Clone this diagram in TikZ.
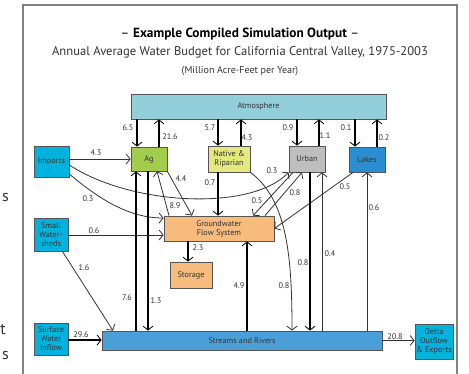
\documentclass[tikz,border=0pt]{standalone}
\usepackage{fontspec}
\setmainfont{PT Sans}
\usetikzlibrary{arrows.meta}
\definecolor{atmc}{HTML}{92CFDB}
\definecolor{cyanc}{HTML}{00B2DE}
\definecolor{agc}{HTML}{A2CD4C}
\definecolor{natc}{HTML}{E4E87E}
\definecolor{urbc}{HTML}{BEBEBE}
\definecolor{lakc}{HTML}{2B8ED3}
\definecolor{gwc}{HTML}{F6BC7D}
\definecolor{strc}{HTML}{4A9FD8}
\definecolor{boxline}{HTML}{555555}
\definecolor{txt}{HTML}{333333}
\definecolor{thinc}{HTML}{333333}
\definecolor{framec}{HTML}{808080}
\tikzset{
  box/.style={draw=boxline, line width=0.8pt, inner sep=0pt, align=center,
    font=\fontsize{8.2}{9}\selectfont, text=txt},
  num/.style={font=\fontsize{8.2}{9}\selectfont, text=txt, inner sep=0pt},
  tipc/.style={-{Straight Barb[length=4pt,width=10pt,line width=0.8pt]}},
  thk/.style={tipc, line width=1.6pt, draw=black},
  thn/.style={tipc, line width=0.8pt, draw=thinc},
}
\begin{document}
\begin{tikzpicture}[x=1pt,y=-1pt]
\useasboundingbox (0,0) rectangle (469,373);
% frame
\draw[framec, line width=1.5pt] (23,385) -- (23,5) -- (457,5) -- (457,385);
% stray glyphs at left margin
\node[anchor=east, font=\fontsize{16}{18}\selectfont, text=txt, inner sep=0pt] (g1) at (9,197) {s};
\node[anchor=east, font=\fontsize{16}{18}\selectfont, text=txt, inner sep=0pt] (g2) at (6,330) {t};
\node[anchor=east, font=\fontsize{16}{18}\selectfont, text=txt, inner sep=0pt] (g3) at (9,355) {s};
% titles
\node[font=\fontsize{13.3}{15}\selectfont, text=black] (t1) at (240,34) {-- \textbf{Example Compiled Simulation Output} --};
\node[font=\fontsize{12.6}{14}\selectfont, text=txt] (t2) at (240,52) {Annual Average Water Budget for California Central Valley, 1975-2003};
\node[font=\fontsize{10}{11}\selectfont, text=txt] (t3) at (240,71) {(Million Acre-Feet per Year)};
% boxes
\node[box, fill=atmc, minimum width=255pt, minimum height=25pt] (atm) at (258.5,106.5) {Atmosphere};
\node[box, fill=cyanc, minimum width=35pt, minimum height=31pt] (imp) at (51.5,161.5) {Imports};
\node[box, fill=agc, minimum width=36pt, minimum height=24pt] (ag) at (149,159) {Ag};
\node[box, fill=natc, minimum width=42pt, minimum height=26pt] (nat) at (229,159) {Native \&\\Riparian};
\node[box, fill=urbc, minimum width=36pt, minimum height=26pt] (urb) at (307,159) {Urban};
\node[box, fill=lakc, minimum width=36pt, minimum height=25pt] (lak) at (367,159.5) {Lakes};
\node[box, fill=gwc, minimum width=110pt, minimum height=25pt] (gw) at (219,228.5) {Groundwater\\Flow System};
\node[box, fill=gwc, minimum width=42pt, minimum height=26pt] (sto) at (191,275) {Storage};
\node[box, fill=cyanc, minimum width=34pt, minimum height=33pt] (sw) at (51,234.5) {Small\\Water-\\sheds};
\node[box, fill=cyanc, minimum width=34pt, minimum height=32pt] (swi) at (51,339) {Surface\\Water\\Inflow};
\node[box, fill=strc, minimum width=280pt, minimum height=19pt] (str) at (242,340.5) {Streams and Rivers};
\node[box, fill=cyanc, minimum width=38pt, minimum height=35pt] (del) at (434,341.5) {Delta\\Outflow\\\& Exports};
% atmosphere exchanges
\draw[thk] (atm.south -| 137,0) -- (ag.north -| 137,0);
\draw[thk] (ag.north -| 159,0) -- (atm.south -| 159,0);
\draw[thk] (atm.south -| 218,0) -- (nat.north -| 218,0);
\draw[thk] (nat.north -| 241,0) -- (atm.south -| 241,0);
\draw[thk] (atm.south -| 297,0) -- (urb.north -| 297,0);
\draw[thk] (urb.north -| 319,0) -- (atm.south -| 319,0);
\draw[thk] (atm.south -| 355,0) -- (lak.north -| 355,0);
\draw[thk] (lak.north -| 377,0) -- (atm.south -| 377,0);
% imports
\draw[thn] (imp.east |- 0,159) -- (ag.west |- 0,159);
\draw[thn] (imp.east |- 0,165) .. controls (130,205) and (250,212) .. (urb.south west);
\draw[thn] (imp.east |- 0,174) .. controls (100,200) and (130,218) .. (gw.west |- 0,218);
% ag and groundwater
\draw[thn] (ag.south east) -- (gw.north -| 192,0);
\draw[thn] (gw.north -| 169,0) -- (ag.south -| 157,0);
% native
\draw[thk] (nat.south -| 218,0) -- (gw.north -| 218,0);
\draw[thn] (nat.south east) .. controls (288,200) and (292,260) .. (str.north -| 292,0);
% ag and streams
\draw[thk] (str.north -| 136,0) -- (ag.south -| 136,0);
\draw[thk] (ag.south -| 148,0) -- (str.north -| 148,0);
% small watersheds
\draw[thn] (sw.east |- 0,235) -- (gw.west |- 0,235);
\draw[thn] ([xshift=-6pt]sw.south east) -- (str.north -| 113,0);
% surface water inflow
\draw[thk] (swi.east |- 0,340) -- (str.west |- 0,340);
% groundwater storage
\draw[thk] (gw.south -| 188,0) -- (sto.north -| 188,0);
% streams to groundwater
\draw[thk] (str.north -| 247,0) -- (gw.south -| 247,0);
% urban and groundwater
\draw[thn] (urb.south -| 293,0) -- (gw.north -| 253,0);
\draw[thn] (gw.north -| 265,0) -- (urb.south -| 302,0);
% lakes to groundwater
\draw[thn] (lak.south -| 353,0) -- (gw.east);
% urban and streams
\draw[thk] (urb.south -| 310,0) -- (str.north -| 310,0);
\draw[thn] (str.north -| 322,0) -- (urb.south -| 322,0);
% streams to lakes
\draw[thn] (str.north -| 367,0) -- (lak.south -| 367,0);
% delta
\draw[thn, line width=1pt] (str.east) -- (del.west |- str.east);
% labels
\node[num] (n1) at (128,128) {6.5};
\node[num] (n2) at (170,137) {21.6};
\node[num] (n3) at (210,128) {5.7};
\node[num] (n4) at (247,138) {4.3};
\node[num] (n5) at (288,128) {0.9};
\node[num] (n6) at (325,136) {1.1};
\node[num] (n7) at (346,128) {0.1};
\node[num] (n8) at (384,138) {0.2};
\node[num] (n9) at (96,153) {4.3};
\node[num] (n10) at (181,179) {4.4};
\node[num] (n11) at (210,183) {0.7};
\node[num] (n12) at (88,199) {0.3};
\node[num] (n13) at (175,206) {8.9};
\node[num] (n14) at (272,171) {0.3};
\node[num] (n15) at (257,201) {0.5};
\node[num] (n16) at (295,193) {0.8};
\node[num] (n17) at (345,187) {0.5};
\node[num] (n18) at (374,208) {0.6};
\node[num] (n19) at (94,231) {0.6};
\node[num] (n20) at (84,268) {1.6};
\node[num] (n21) at (198,248) {2.3};
\node[num] (n22) at (127,298) {7.6};
\node[num] (n23) at (156,301) {1.3};
\node[num] (n24) at (81,335) {29.6};
\node[num] (n25) at (239,286) {4.9};
\node[num] (n26) at (284,286) {0.8};
\node[num] (n27) at (303,263) {0.8};
\node[num] (n28) at (330,254) {0.4};
\node[num] (n29) at (395,337) {20.8};
\end{tikzpicture}
\end{document}
